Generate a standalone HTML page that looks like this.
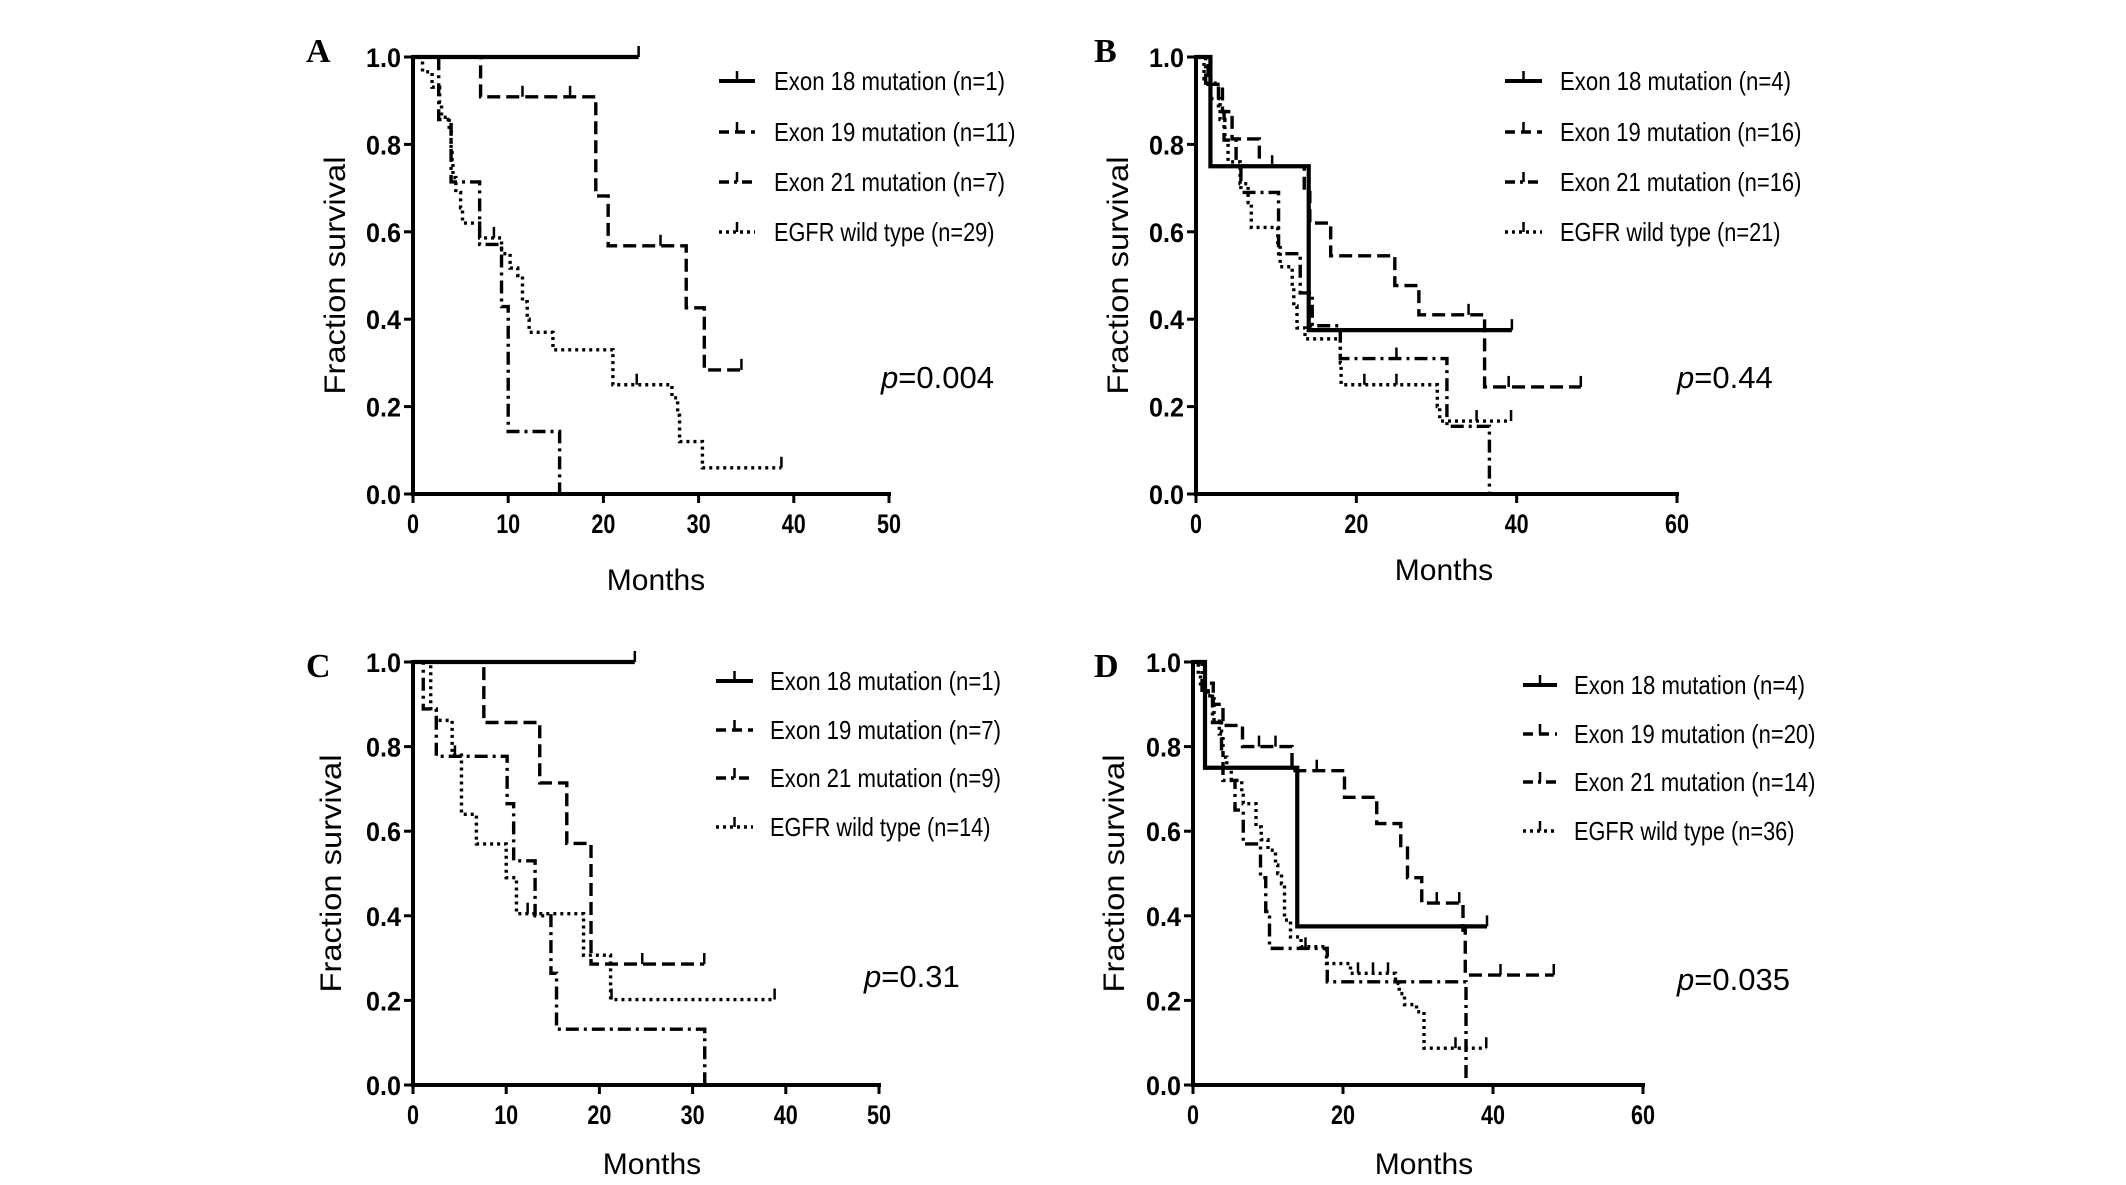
<!DOCTYPE html>
<html><head><meta charset="utf-8"><style>
html,body{margin:0;padding:0;background:#fff;}
svg{display:block;font-family:"Liberation Sans",Arial,sans-serif;}
</style></head><body>
<svg id="fig" width="2126" height="1185" viewBox="0 0 2126 1185"></svg>
<script>
// ---- Panel A data ----
const aE18t=[], aE18s=[], aE18end=23.7, aE18c=[23.7];
const aE19t=[7.1,19.2,20.5,28.7,30.6], aE19s=[0.909,0.682,0.568,0.426,0.284], aE19end=34.5, aE19c=[11.5,16.5,26,34.5];
const aE21t=[2.7,4,7,9.3,10,15.4], aE21s=[0.857,0.714,0.571,0.429,0.143,0], aE21end=15.4, aE21c=[];
const aWTt=[1,2,2.8,3,3.8,4,4.1,4.2,4.5,5,5.2,7,9.3,10.2,11,11.5,12,12.2,14.7,21,27.2,27.8,28,30.4], aWTs=[0.966,0.931,0.897,0.862,0.828,0.79,0.76,0.724,0.69,0.655,0.62,0.586,0.55,0.517,0.5,0.44,0.4,0.37,0.33,0.25,0.22,0.18,0.12,0.06], aWTend=38.7, aWTc=[8.5,23.5,38.7];
// ---- Panel B data ----
const bE18t=[1.8,14.06], bE18s=[0.75,0.375], bE18end=39.4, bE18c=[39.4];
const bE19t=[1.5,3.3,4.5,7.9,13.5,14.2,16.8,24.8,27.8,36], bE19s=[0.9375,0.875,0.8125,0.75,0.69,0.62,0.545,0.477,0.41,0.245], bE19end=48, bE19c=[9.5,34,39,48];
const bE21t=[1.2,2.8,3.5,5,5.6,10.3,13,14.5,18,31.3,36.6], bE21s=[0.94,0.875,0.81,0.75,0.69,0.55,0.46,0.385,0.31,0.155,0], bE21end=36.6, bE21c=[25];
const bWTt=[1,1.8,3,3.6,4,5.5,6.5,6.9,10.2,10.5,12,12.2,12.6,13.6,18,18.1,30.1,30.4], bWTs=[0.95,0.905,0.857,0.81,0.76,0.71,0.667,0.61,0.57,0.52,0.475,0.43,0.38,0.355,0.3,0.25,0.2,0.167], bWTend=39.3, bWTc=[21,25,35,39.3];
// ---- Panel C data ----
const cE18t=[], cE18s=[], cE18end=23.8, cE18c=[23.8];
const cE19t=[7.6,13.6,16.5,19.1], cE19s=[0.857,0.714,0.571,0.286], cE19end=31.25, cE19c=[24.6,31.25];
const cE21t=[1.1,2.5,10.1,10.8,13.1,14.8,15.4,31.3], cE21s=[0.889,0.777,0.665,0.53,0.4,0.264,0.132,0], cE21end=31.3, cE21c=[4.5];
const cWTt=[1.9,2.5,4.2,5.2,6.8,10,11.1,18.3,21.2], cWTs=[0.89,0.862,0.78,0.64,0.57,0.49,0.405,0.307,0.202], cWTend=38.8, cWTc=[12.3,21.3,38.8];
// ---- Panel D data ----
const dE18t=[1.6,13.9], dE18s=[0.75,0.375], dE18end=39.2, dE18c=[39.2];
const dE19t=[1.6,2.7,4,6.6,13.2,20.2,24.5,27.7,28.6,30.5,36,36.3], dE19s=[0.95,0.9,0.85,0.8,0.743,0.68,0.618,0.56,0.49,0.43,0.366,0.26], dE19end=48.1, dE19c=[8.8,11,16.5,32.5,35.5,41,48.1];
const dE21t=[1.2,2.6,3.8,4.0,5.6,6.7,9,9.7,10.2,17.9,36.4], dE21s=[0.929,0.857,0.786,0.72,0.65,0.57,0.49,0.41,0.323,0.244,0], dE21end=36.4, dE21c=[15];
const dWTt=[0.7,1,2,2.8,3.5,4,4.5,5.1,6.5,6.7,8.4,9.1,10,11,11.3,11.8,12.2,13,14.4,17.8,21,27,27.5,28.2,29.8,30.8], dWTs=[0.97,0.94,0.92,0.86,0.83,0.775,0.75,0.72,0.69,0.665,0.61,0.58,0.555,0.52,0.5,0.476,0.39,0.35,0.327,0.287,0.264,0.24,0.216,0.19,0.173,0.087], dWTend=39.1, dWTc=[22,24,26,35,39.1];

const xTicksA=[0,10,20,30,40,50], xTicksB=[0,20,40,60];
const yTicks=[0,0.2,0.4,0.6,0.8,1.0];
const legA=["Exon 18 mutation (n=1)","Exon 19 mutation (n=11)","Exon 21 mutation (n=7)","EGFR wild type (n=29)"];
const legB=["Exon 18 mutation (n=4)","Exon 19 mutation (n=16)","Exon 21 mutation (n=16)","EGFR wild type (n=21)"];
const legC=["Exon 18 mutation (n=1)","Exon 19 mutation (n=7)","Exon 21 mutation (n=9)","EGFR wild type (n=14)"];
const legD=["Exon 18 mutation (n=4)","Exon 19 mutation (n=20)","Exon 21 mutation (n=14)","EGFR wild type (n=36)"];

const NS="http://www.w3.org/2000/svg";
const svg=document.getElementById('fig');
function mk(tag,attrs,parent,txt){const e=document.createElementNS(NS,tag);for(const k in attrs)e.setAttribute(k,attrs[k]);if(txt!==undefined)e.textContent=txt;(parent||svg).appendChild(e);return e;}
const DASH=["none","13,6","13,5,3,5","3,4"];

function panel(P){
  const g=mk('g',{});
  
  
  const xs=v=>P.x0+(P.x1-P.x0)*v/P.xmax, ys=v=>P.y0+(P.y1-P.y0)*v;
  P.series.forEach((s,i)=>{
    let d='M'+xs(0)+','+ys(1);
    s.t.forEach((t,j)=>{d+=' H'+xs(t)+' V'+ys(s.s[j]);});
    d+=' H'+xs(s.end);
    const p=mk('path',{d:d,fill:'none',stroke:'#000','stroke-width':i==0?4.2:3.4,'stroke-dasharray':DASH[i]},g);
    
    
    s.c.forEach(c=>{
      let v=1;s.t.forEach((t,j)=>{if(t<=c)v=s.s[j];});
      const cm=mk('line',{x1:xs(c),x2:xs(c),y1:ys(v),y2:ys(v)-11,stroke:'#000','stroke-width':2.5},g);
      
      
    });
  });
  const ax=mk('path',{d:`M${P.x0},${P.y1-2} V${P.y0} H${P.x1+2}`,fill:'none',stroke:'#000','stroke-width':4},g);
  
  
  yTicks.forEach(v=>{
    mk('line',{x1:P.x0-9,x2:P.x0,y1:ys(v),y2:ys(v),stroke:'#000','stroke-width':3},g);
    const t=mk('text',{x:P.x0-12,y:ys(v)+10,'text-anchor':'end','font-size':27,'font-weight':'bold',textLength:35,lengthAdjust:'spacingAndGlyphs'},g,v.toFixed(1));
    
    
  });
  P.xt.forEach(v=>{
    mk('line',{x1:xs(v),x2:xs(v),y1:P.y0,y2:P.y0+9,stroke:'#000','stroke-width':3},g);
    const s=String(v);
    const t=mk('text',{x:xs(v),y:P.y0+39,'text-anchor':'middle','font-size':27,'font-weight':'bold',textLength:s.length*12,lengthAdjust:'spacingAndGlyphs'},g,s);
    
    
  });
  const yt=mk('text',{x:0,y:0,transform:`translate(${P.ytx},${(P.y0+P.y1)/2}) rotate(-90)`,'text-anchor':'middle','font-size':30,textLength:238,lengthAdjust:'spacingAndGlyphs'},g,'Fraction survival');
  
  
  const xt=mk('text',{x:P.xtx,y:P.xty,'text-anchor':'middle','font-size':30},g,'Months');
  
  
  const lt=mk('text',{x:P.lx,y:P.ly,'font-size':34,'font-weight':'bold','font-family':'Liberation Serif, serif'},g,P.id);
  
  
  const pv=mk('text',{x:P.px,y:P.py,'font-size':31},g);
  
  
  mk('tspan',{'font-style':'italic'},pv,'p');mk('tspan',{},pv,'='+P.p);
  P.leg.forEach((L,i)=>{
    const y=P.legY[i];
    const le=mk('g',{},g);
    
    
    mk('line',{x1:P.legX1,x2:P.legX2,y1:y,y2:y,stroke:'#000','stroke-width':i==0?4:3.5,'stroke-dasharray':i==0?'none':(i==1?'10,6':(i==2?'10,5,3,5':'3,4'))},le);
    mk('line',{x1:(P.legX1+P.legX2)/2,x2:(P.legX1+P.legX2)/2,y1:y,y2:y-10,stroke:'#000','stroke-width':2.5},le);
    mk('text',{x:P.legT,y:y+9,'font-size':26,textLength:L.length*10.5,lengthAdjust:'spacingAndGlyphs'},le,L);
  });
}
const S=(t,s,end,c)=>({t:t,s:s,end:end,c:c});
panel({id:'A',x0:413,x1:889,xmax:50,y0:494,y1:57,xt:xTicksA,ytx:345,xtx:656,xty:590,lx:306,ly:62,px:881,py:388,p:'0.004',
  leg:legA,legX1:719,legX2:755,legT:774,legY:[81,132,182,232],
  series:[S(aE18t,aE18s,aE18end,aE18c),S(aE19t,aE19s,aE19end,aE19c),S(aE21t,aE21s,aE21end,aE21c),S(aWTt,aWTs,aWTend,aWTc)]});
panel({id:'B',x0:1196,x1:1677,xmax:60,y0:494,y1:57,xt:xTicksB,ytx:1128,xtx:1444,xty:580,lx:1094,ly:62,px:1677,py:388,p:'0.44',
  leg:legB,legX1:1505,legX2:1542,legT:1560,legY:[81,132,182,232],
  series:[S(bE18t,bE18s,bE18end,bE18c),S(bE19t,bE19s,bE19end,bE19c),S(bE21t,bE21s,bE21end,bE21c),S(bWTt,bWTs,bWTend,bWTc)]});
panel({id:'C',x0:413,x1:879,xmax:50,y0:1085,y1:662,xt:xTicksA,ytx:341,xtx:652,xty:1174,lx:306,ly:677,px:864,py:987,p:'0.31',
  leg:legC,legX1:716,legX2:753,legT:770,legY:[681,730,778,827],
  series:[S(cE18t,cE18s,cE18end,cE18c),S(cE19t,cE19s,cE19end,cE19c),S(cE21t,cE21s,cE21end,cE21c),S(cWTt,cWTs,cWTend,cWTc)]});
panel({id:'D',x0:1193,x1:1643,xmax:60,y0:1085,y1:662,xt:xTicksB,ytx:1124,xtx:1424,xty:1174,lx:1094,ly:677,px:1677,py:990,p:'0.035',
  leg:legD,legX1:1523,legX2:1557,legT:1574,legY:[685,734,782,831],
  series:[S(dE18t,dE18s,dE18end,dE18c),S(dE19t,dE19s,dE19end,dE19c),S(dE21t,dE21s,dE21end,dE21c),S(dWTt,dWTs,dWTend,dWTc)]});
</script>
</body></html>
